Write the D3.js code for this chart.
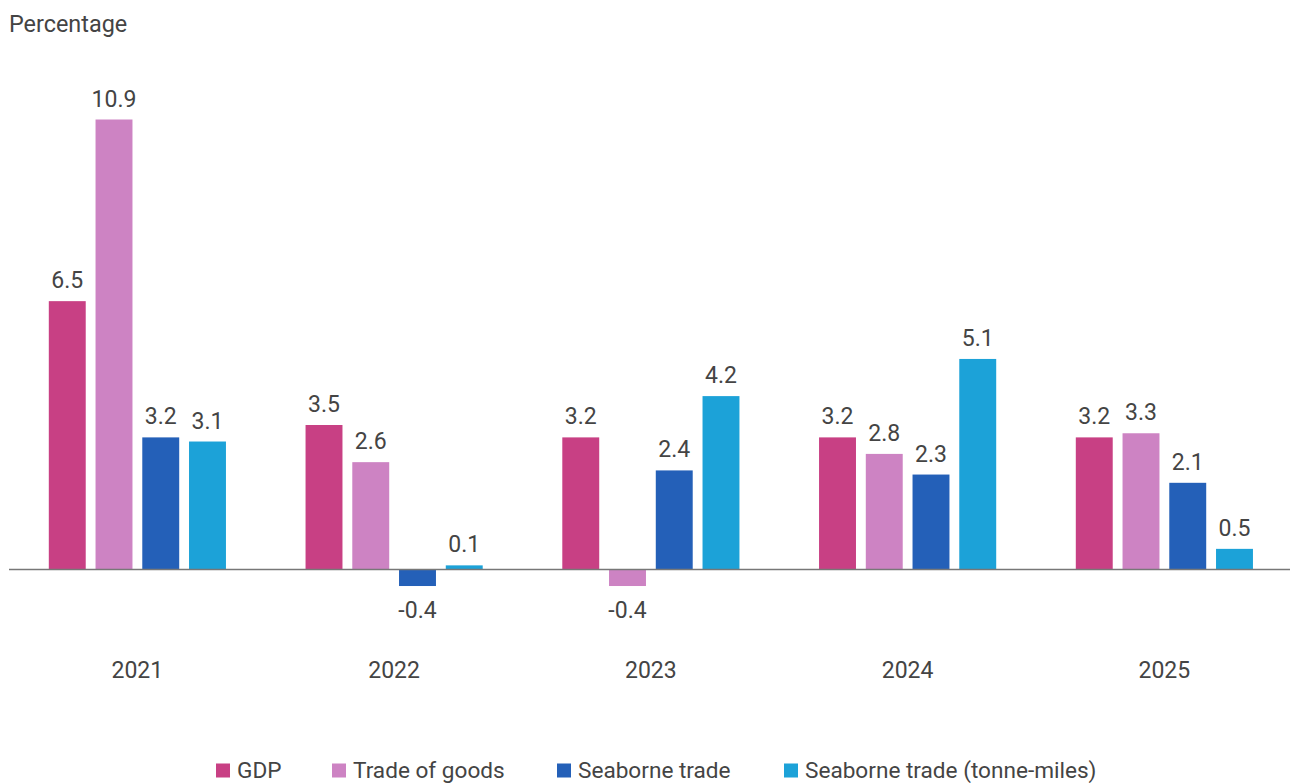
<!DOCTYPE html>
<html>
<head>
<meta charset="utf-8">
<script src="https://cdn.jsdelivr.net/npm/d3@7"></script>
<style>
  html, body { margin: 0; padding: 0; background: #fff; }
  svg { display: block; font-family: Roboto, "Noto Sans", sans-serif; }
</style>
</head>
<body>
<svg id="chart" width="1290" height="783"></svg>
<script>
// Annual growth, percent
const years = ["2021", "2022", "2023", "2024", "2025"];
const seriesNames = ["GDP", "Trade of goods", "Seaborne trade", "Seaborne trade (tonne-miles)"];
const gdp = [6.5, 3.5, 3.2, 3.2, 3.2];
const tradeOfGoods = [10.9, 2.6, -0.4, 2.8, 3.3];
const seaborneTrade = [3.2, -0.4, 2.4, 2.3, 2.1];
const seaborneTonneMiles = [3.1, 0.1, 4.2, 5.1, 0.5];
const seriesColors = ["#C84084", "#CD83C3", "#2460B8", "#1CA2D8"];

const seriesValues = [gdp, tradeOfGoods, seaborneTrade, seaborneTonneMiles];
const rows = years.map((y, i) => ({
  year: y,
  values: seriesNames.map((s, j) => ({ key: s, value: seriesValues[j][i], color: seriesColors[j] }))
}));

const svg = d3.select("#chart");
const textColor = "#444";
const fmt = v => d3.format(".1f")(v).replace("\u2212", "-");

const x0 = d3.scaleBand().domain(years).range([9, 1292.75]).paddingInner(0.31).paddingOuter(0.155);
const x1 = d3.scaleBand().domain(seriesNames).range([0, x0.bandwidth()]).paddingInner(0.21).paddingOuter(0);
const y = d3.scaleLinear().domain([0, 10.9]).range([569.5, 119.5]);

// Axis title
svg.append("text")
  .attr("x", 9).attr("y", 32)
  .attr("font-size", 23.4).attr("fill", textColor)
  .text("Percentage");

const groups = svg.append("g").selectAll("g")
  .data(rows).join("g")
  .attr("transform", d => `translate(${x0(d.year)},0)`);

groups.selectAll("rect")
  .data(d => d.values).join("rect")
  .attr("x", d => x1(d.key))
  .attr("width", x1.bandwidth())
  .attr("y", d => y(Math.max(0, d.value)))
  .attr("height", d => Math.abs(y(d.value) - y(0)))
  .attr("fill", d => d.color);

groups.selectAll("text.val")
  .data(d => d.values).join("text")
  .attr("class", "val")
  .attr("x", d => x1(d.key) + x1.bandwidth() / 2)
  .attr("y", d => d.value >= 0 ? y(d.value) - 13 : y(d.value) + 32)
  .attr("text-anchor", "middle")
  .attr("font-size", 23).attr("fill", textColor)
  .text(d => fmt(d.value));

// Zero line
svg.append("line")
  .attr("x1", 9).attr("x2", 1290)
  .attr("y1", y(0)).attr("y2", y(0))
  .attr("stroke", "#777").attr("stroke-width", 1.3);

// Category axis labels
const xAxis = svg.append("g")
  .attr("transform", `translate(0,${y(0)})`)
  .call(d3.axisBottom(x0).tickSize(0).tickPadding(0));
xAxis.select(".domain").remove();
xAxis.selectAll("text")
  .attr("y", 108.5)
  .attr("dy", 0)
  .attr("font-size", 23)
  .attr("font-family", "Roboto, 'Noto Sans', sans-serif")
  .attr("fill", textColor);

// Legend
const legendX = [216, 332, 557, 784];
const legend = svg.append("g").selectAll("g")
  .data(seriesNames).join("g")
  .attr("transform", (d, i) => `translate(${legendX[i]},763.5)`);
legend.append("rect")
  .attr("width", 14).attr("height", 14)
  .attr("fill", (d, i) => seriesColors[i]);
legend.append("text")
  .attr("x", 21).attr("y", 14.5)
  .attr("font-size", 22.6).attr("fill", textColor)
  .text(d => d);
</script>
</body>
</html>
